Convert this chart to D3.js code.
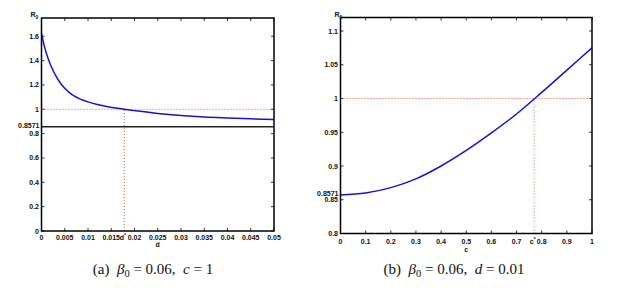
<!DOCTYPE html>
<html>
<head>
<meta charset="utf-8">
<script src="https://cdn.jsdelivr.net/npm/d3@7"></script>
<style>
  body { margin: 0; background: #fff; }
  svg text { font-family: "Liberation Sans", Arial, sans-serif; font-weight: bold; font-size: 7px; fill: #111; }
</style>
</head>
<body>
<svg id="chart" width="618" height="288"></svg>
<script>
// panel (a): R0 against d, beta0 = 0.06, c = 1
var dValues = [0, 0.0005, 0.001, 0.002, 0.003, 0.004, 0.005, 0.006, 0.007, 0.008, 0.009, 0.010, 0.012, 0.014, 0.016, 0.0178, 0.020, 0.025, 0.030, 0.035, 0.040, 0.045, 0.050];
var r0ByD   = [1.625, 1.535, 1.465, 1.36, 1.28, 1.218, 1.172, 1.137, 1.11, 1.09, 1.074, 1.061, 1.04, 1.023, 1.01, 1.0, 0.989, 0.966, 0.949, 0.937, 0.929, 0.922, 0.916];
var dTicks  = [0, 0.005, 0.01, 0.015, 0.02, 0.025, 0.03, 0.035, 0.04, 0.045, 0.05];
var r0TicksA = [0, 0.2, 0.4, 0.6, 0.8, 1, 1.2, 1.4, 1.6];
var dStar = 0.0178;

// panel (b): R0 against c, beta0 = 0.06, d = 0.01
var cValues = [0, 0.1, 0.2, 0.3, 0.4, 0.5, 0.6, 0.7, 0.8, 0.9, 1.0];
var r0ByC   = [0.8571, 0.860, 0.868, 0.881, 0.900, 0.923, 0.949, 0.977, 1.009, 1.042, 1.075];
var cTicks  = [0, 0.1, 0.2, 0.3, 0.4, 0.5, 0.6, 0.7, 0.8, 0.9, 1];
var r0TicksB = [0.8, 0.85, 0.9, 0.95, 1, 1.05, 1.1];
var cStar = 0.77;

var threshold = 0.8571;

var svg = d3.select("#chart");

function drawPanel(p) {
  var x = d3.scaleLinear().domain(p.xDomain).range([p.left, p.right]);
  var y = d3.scaleLinear().domain(p.yDomain).range([p.bottom, p.top]);
  var g = svg.append("g");

  // inside ticks on all four sides
  var tl = 3;
  p.xTicks.forEach(function(t) {
    g.append("line").attr("x1", x(t)).attr("x2", x(t)).attr("y1", p.bottom).attr("y2", p.bottom - tl).attr("stroke", "#000").attr("stroke-width", 0.8);
    g.append("line").attr("x1", x(t)).attr("x2", x(t)).attr("y1", p.top).attr("y2", p.top + tl).attr("stroke", "#000").attr("stroke-width", 0.8);
    g.append("text").attr("x", x(t)).attr("y", p.bottom + p.tickDy).attr("text-anchor", "middle").text(String(t));
  });
  p.yTicks.forEach(function(t) {
    g.append("line").attr("x1", p.left).attr("x2", p.left + tl).attr("y1", y(t)).attr("y2", y(t)).attr("stroke", "#000").attr("stroke-width", 0.8);
    g.append("line").attr("x1", p.right).attr("x2", p.right - tl).attr("y1", y(t)).attr("y2", y(t)).attr("stroke", "#000").attr("stroke-width", 0.8);
    g.append("text").attr("x", p.left - 2.5).attr("y", y(t) + 2.5).attr("text-anchor", "end").text(String(t));
  });

  // extra threshold label on the y axis
  g.append("text").attr("x", p.left - 2).attr("y", y(threshold) + 1).attr("text-anchor", "end").text("0.8571");

  // dotted guides at R0 = 1
  g.append("line").attr("x1", p.left).attr("x2", p.right).attr("y1", y(1)).attr("y2", y(1))
    .attr("stroke", "#e05050").attr("stroke-width", 1).attr("stroke-dasharray", "1,2");
  g.append("line").attr("x1", x(p.star)).attr("x2", x(p.star)).attr("y1", p.bottom).attr("y2", y(1))
    .attr("stroke", "#e05050").attr("stroke-width", 1).attr("stroke-dasharray", "1,2");

  if (p.blackLine) {
    g.append("line").attr("x1", p.left).attr("x2", p.right).attr("y1", y(threshold)).attr("y2", y(threshold))
      .attr("stroke", "#222").attr("stroke-width", 1.6);
  }

  var line = d3.line().x(function(d) { return x(d[0]); }).y(function(d) { return y(d[1]); }).curve(d3.curveMonotoneX);
  g.append("path").datum(d3.zip(p.xs, p.ys)).attr("d", line)
    .attr("fill", "none").attr("stroke", "#1515c8").attr("stroke-width", 1.5);

  // star label
  var st = g.append("text").attr("x", x(p.star) - 1.5).attr("y", p.bottom + p.tickDy).attr("text-anchor", "middle");
  st.append("tspan").text(p.starName);
  st.append("tspan").attr("dy", -3).attr("font-size", "5px").text("*");

  // frame
  g.append("rect").attr("x", p.left).attr("y", p.top).attr("width", p.right - p.left).attr("height", p.bottom - p.top)
    .attr("fill", "none").attr("stroke", "#000").attr("stroke-width", 1.5);

  // axis labels
  g.append("text").attr("x", (p.left + p.right) / 2).attr("y", p.bottom + p.xLabelDy).attr("text-anchor", "middle").text(p.xName);
  var r = g.append("text").attr("x", p.left + p.rDx).attr("y", p.top - 1);
  r.append("tspan").text("R");
  r.append("tspan").attr("dy", 2).attr("font-size", "5px").text("0");

  // caption
  var cap = g.append("text").attr("x", p.capX).attr("y", 274).attr("text-anchor", "middle")
    .style("font-family", "'Liberation Serif', 'DejaVu Serif', serif").style("font-weight", "normal").style("font-size", "15px");
  cap.append("tspan").text("(" + p.tag + ")\u00a0\u00a0");
  cap.append("tspan").attr("font-style", "italic").text("β");
  cap.append("tspan").attr("dy", 2.5).style("font-size", "10.5px").text("0");
  cap.append("tspan").attr("dy", -2.5).text("\u00a0=\u00a00.06,\u00a0\u00a0");
  cap.append("tspan").attr("font-style", "italic").text(p.capVar);
  cap.append("tspan").text("\u00a0=\u00a0" + p.capVal);
}

drawPanel({
  left: 41.5, right: 274, top: 18, bottom: 231,
  xDomain: [0, 0.05], yDomain: [0, 1.75],
  xTicks: dTicks, yTicks: r0TicksA,
  xs: dValues, ys: r0ByD,
  star: dStar, starName: "d", xName: "d", tickDy: 8.5, xLabelDy: 15.5, rDx: -11,
  blackLine: true,
  tag: "a", capVar: "c", capVal: "1", capX: 153
});

drawPanel({
  left: 340.5, right: 592, top: 17.5, bottom: 233.5,
  xDomain: [0, 1], yDomain: [0.8, 1.12],
  xTicks: cTicks, yTicks: r0TicksB,
  xs: cValues, ys: r0ByC,
  star: cStar, starName: "c", xName: "c", tickDy: 10, xLabelDy: 18, rDx: -6,
  blackLine: false,
  tag: "b", capVar: "d", capVal: "0.01", capX: 454
});
</script>
</body>
</html>
